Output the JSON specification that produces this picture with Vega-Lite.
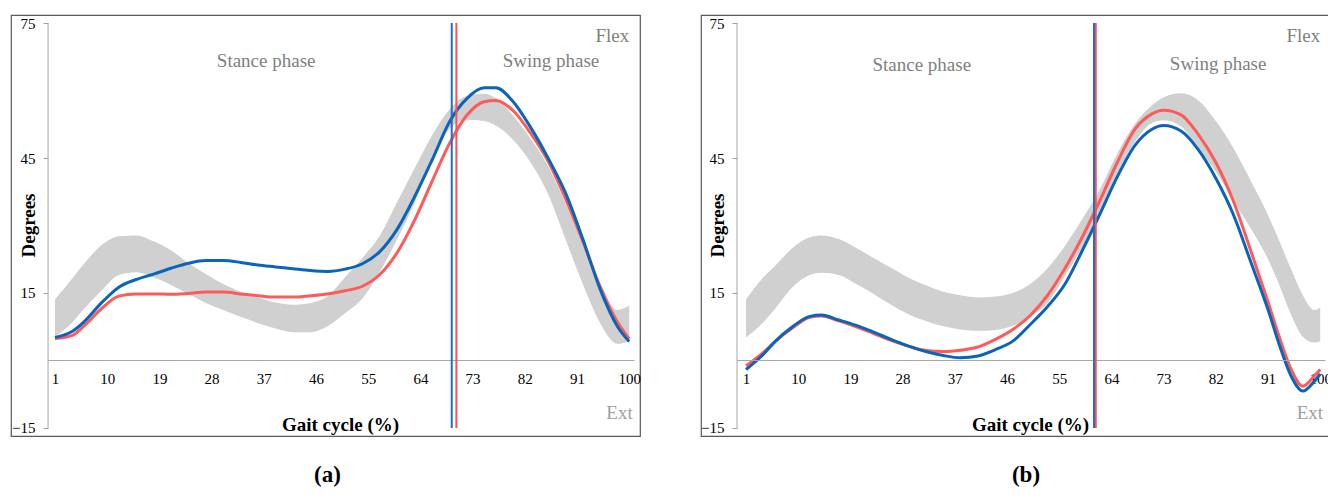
{
  "$schema": "https://vega.github.io/schema/vega-lite/v6.json",
  "padding": {"left": 10, "top": 14, "right": 0, "bottom": 0},
  "spacing": 57,
  "config": {
    "view": {"stroke": "#595959", "strokeWidth": 1.2},
    "font": "Liberation Serif",
    "axis": {"grid": false, "labelFont": "Liberation Serif", "titleFont": "Liberation Serif", "labelColor": "#000000", "titleColor": "#000000", "labelFontSize": 15, "titleFontSize": 19, "titleFontWeight": "bold"},
    "title": {"font": "Liberation Serif"}
  },
  "datasets": {
    "a": [
      {"x": 1, "lo": 5.3, "hi": 13.6, "blue": 5.1, "red": 4.9},
      {"x": 4, "lo": 8.5, "hi": 18.3, "blue": 6.5, "red": 5.6},
      {"x": 6, "lo": 11.5, "hi": 21.5, "blue": 8.6, "red": 7.7},
      {"x": 9, "lo": 15.5, "hi": 25.6, "blue": 12.8, "red": 11.5},
      {"x": 12, "lo": 19, "hi": 27.6, "blue": 16.3, "red": 14.3},
      {"x": 15, "lo": 19.6, "hi": 27.8, "blue": 18, "red": 14.8},
      {"x": 18, "lo": 18.5, "hi": 26.5, "blue": 19.2, "red": 14.8},
      {"x": 21, "lo": 16.8, "hi": 24.5, "blue": 20.5, "red": 14.7},
      {"x": 24, "lo": 14.8, "hi": 21.6, "blue": 21.6, "red": 14.9},
      {"x": 27, "lo": 12.8, "hi": 19.2, "blue": 22.2, "red": 15.2},
      {"x": 30, "lo": 11.2, "hi": 17, "blue": 22.2, "red": 15.2},
      {"x": 33, "lo": 9.7, "hi": 15.3, "blue": 21.8, "red": 14.8},
      {"x": 36, "lo": 8.3, "hi": 14, "blue": 21.2, "red": 14.4},
      {"x": 39, "lo": 7.1, "hi": 12.9, "blue": 20.8, "red": 14.1},
      {"x": 42, "lo": 6.3, "hi": 12.4, "blue": 20.4, "red": 14.1},
      {"x": 45, "lo": 6.3, "hi": 12.8, "blue": 20, "red": 14.4},
      {"x": 48, "lo": 7.6, "hi": 14.3, "blue": 19.8, "red": 14.8},
      {"x": 51, "lo": 10.5, "hi": 18.5, "blue": 20.3, "red": 15.5},
      {"x": 54, "lo": 13.8, "hi": 22.8, "blue": 21.5, "red": 16.5},
      {"x": 57, "lo": 19.7, "hi": 27.7, "blue": 24.2, "red": 19.1},
      {"x": 60, "lo": 27, "hi": 35.2, "blue": 29.2, "red": 24},
      {"x": 63, "lo": 35, "hi": 42.7, "blue": 36.4, "red": 31.2},
      {"x": 66, "lo": 44.7, "hi": 50, "blue": 44.5, "red": 39.8},
      {"x": 69, "lo": 51.5, "hi": 55.8, "blue": 53, "red": 48.2},
      {"x": 72, "lo": 53.5, "hi": 58.8, "blue": 58.2, "red": 54.5},
      {"x": 75, "lo": 53.2, "hi": 59.3, "blue": 60.6, "red": 57.5},
      {"x": 77, "lo": 52.2, "hi": 58.3, "blue": 60.6, "red": 57.8},
      {"x": 80, "lo": 49, "hi": 54.4, "blue": 57.5, "red": 55.5},
      {"x": 83, "lo": 44, "hi": 49.3, "blue": 51.8, "red": 50.5},
      {"x": 86, "lo": 37, "hi": 43.2, "blue": 45, "red": 44.3},
      {"x": 89, "lo": 27, "hi": 35, "blue": 37.3, "red": 36},
      {"x": 92, "lo": 17, "hi": 26.5, "blue": 27, "red": 26.5},
      {"x": 95, "lo": 8.3, "hi": 17.3, "blue": 15.8, "red": 16.3},
      {"x": 98, "lo": 3.7, "hi": 11.2, "blue": 7.5, "red": 8.5},
      {"x": 100, "lo": 4.3, "hi": 12.2, "blue": 4.2, "red": 4.8}
    ],
    "b": [
      {"x": 1, "lo": 5.1, "hi": 13.6, "blue": -2, "red": -1.2},
      {"x": 4, "lo": 8.5, "hi": 18.5, "blue": 1.4, "red": 1.8},
      {"x": 6, "lo": 11.5, "hi": 21, "blue": 4.2, "red": 4.2},
      {"x": 9, "lo": 16.3, "hi": 25, "blue": 7.5, "red": 7.2},
      {"x": 12, "lo": 19, "hi": 27.4, "blue": 9.8, "red": 9.6},
      {"x": 14, "lo": 19.5, "hi": 27.8, "blue": 10.1, "red": 9.9},
      {"x": 17, "lo": 19, "hi": 27, "blue": 9, "red": 8.8},
      {"x": 20, "lo": 17, "hi": 25, "blue": 7.8, "red": 7.5},
      {"x": 23, "lo": 14.8, "hi": 22.8, "blue": 6.3, "red": 6},
      {"x": 26, "lo": 12.4, "hi": 20.6, "blue": 4.7, "red": 4.5},
      {"x": 29, "lo": 10.3, "hi": 18.4, "blue": 3.2, "red": 3.2},
      {"x": 32, "lo": 8.8, "hi": 16.7, "blue": 2, "red": 2.2},
      {"x": 35, "lo": 7.6, "hi": 15.3, "blue": 1.1, "red": 2},
      {"x": 38, "lo": 6.9, "hi": 14.5, "blue": 0.6, "red": 2.3},
      {"x": 41, "lo": 6.6, "hi": 14, "blue": 1, "red": 3},
      {"x": 44, "lo": 6.8, "hi": 14.2, "blue": 2.4, "red": 4.7},
      {"x": 47, "lo": 7.7, "hi": 15, "blue": 4.3, "red": 6.9},
      {"x": 50, "lo": 9.8, "hi": 17, "blue": 8, "red": 10},
      {"x": 53, "lo": 12.8, "hi": 20.5, "blue": 12, "red": 14.5},
      {"x": 56, "lo": 18.8, "hi": 25.5, "blue": 17, "red": 20.5},
      {"x": 59, "lo": 25.3, "hi": 31.5, "blue": 24.5, "red": 27.5},
      {"x": 62, "lo": 33, "hi": 38, "blue": 32.5, "red": 35.5},
      {"x": 65, "lo": 41.5, "hi": 46, "blue": 40.8, "red": 44},
      {"x": 68, "lo": 48.5, "hi": 52.5, "blue": 47.7, "red": 51.3},
      {"x": 71, "lo": 52.8, "hi": 56.7, "blue": 51.4, "red": 54.8},
      {"x": 73, "lo": 53.4, "hi": 58.5, "blue": 52.2, "red": 55.6},
      {"x": 76, "lo": 52, "hi": 59.4, "blue": 51, "red": 54.6},
      {"x": 79, "lo": 47, "hi": 57.8, "blue": 46.8, "red": 50.2},
      {"x": 82, "lo": 42, "hi": 53.2, "blue": 40.5, "red": 44},
      {"x": 85, "lo": 35.5, "hi": 47.3, "blue": 32.5, "red": 35.5},
      {"x": 88, "lo": 29.4, "hi": 40, "blue": 22, "red": 24.5},
      {"x": 91, "lo": 22.5, "hi": 32.3, "blue": 11.3, "red": 13},
      {"x": 93, "lo": 16.6, "hi": 26.4, "blue": 3.3, "red": 5},
      {"x": 95, "lo": 10.1, "hi": 20.2, "blue": -3.5, "red": -2},
      {"x": 97, "lo": 5.3, "hi": 14.5, "blue": -6.8, "red": -5.7},
      {"x": 99, "lo": 4, "hi": 11.2, "blue": -4.6, "red": -3.4},
      {"x": 100, "lo": 4.3, "hi": 11.8, "blue": -3, "red": -2}
    ]
  },
  "hconcat": [
    {
      "width": 629,
      "height": 421,
      "title": {"text": "(a)", "orient": "bottom", "anchor": "middle", "offset": 28, "fontSize": 23, "fontWeight": "bold", "dx": 2, "color": "#000000"},
      "data": {"name": "a"},
      "layer": [
        {
          "mark": {"type": "area", "color": "#d0d0d0", "interpolate": "monotone"},
          "encoding": {
            "x": {"field": "x", "type": "quantitative", "scale": {"domain": [-6.59, 101.86], "nice": false, "zero": false},
              "axis": {"values": [1, 10, 19, 28, 37, 46, 55, 64, 73, 82, 91, 100], "offset": -75.5, "domain": false, "ticks": false, "labelPadding": 11, "labelFlush": false, "labelOverlap": false, "title": "Gait cycle (%)", "titleX": 329, "titleY": 63.5, "titleBaseline": "middle", "titleAlign": "center"}},
            "y": {"field": "lo", "type": "quantitative", "scale": {"domain": [-16.78, 76.78], "nice": false, "zero": false},
              "axis": {"values": [-15, 15, 45, 75], "offset": -37, "domain": false, "ticks": true, "tickSize": 5, "tickColor": "#a0a0a0", "labelPadding": 8, "labelFlush": false, "labelOverlap": false, "title": "Degrees", "titleX": -20, "titleY": 210, "titleAngle": 270, "titleBaseline": "middle", "titleAlign": "center"}},
            "y2": {"field": "hi"}
          }
        },
        {
          "mark": {"type": "line", "color": "#ff5a5a", "strokeWidth": 3, "interpolate": "monotone"},
          "encoding": {"x": {"field": "x", "type": "quantitative"}, "y": {"field": "red", "type": "quantitative"}}
        },
        {
          "mark": {"type": "line", "color": "#0a64b9", "strokeWidth": 3, "interpolate": "monotone"},
          "encoding": {"x": {"field": "x", "type": "quantitative"}, "y": {"field": "blue", "type": "quantitative"}}
        },
        {
          "data": {"values": [{}]},
          "mark": {"type": "rule", "color": "#a6a6a6", "strokeWidth": 1},
          "encoding": {"x": {"datum": -0.2, "type": "quantitative"}, "y": {"datum": -15, "type": "quantitative"}, "y2": {"datum": 75}}
        },
        {
          "data": {"values": [{}]},
          "mark": {"type": "rule", "color": "#a6a6a6", "strokeWidth": 1},
          "encoding": {"x": {"datum": -0.2, "type": "quantitative"}, "x2": {"datum": 100.9}, "y": {"datum": 0, "type": "quantitative"}}
        },
        {
          "data": {"values": [{}]},
          "mark": {"type": "rule", "color": "#1f6fc5", "strokeWidth": 2},
          "encoding": {"x": {"datum": 69.4, "type": "quantitative"}, "y": {"datum": -15, "type": "quantitative"}, "y2": {"datum": 75}}
        },
        {
          "data": {"values": [{}]},
          "mark": {"type": "rule", "color": "#ff5050", "strokeWidth": 2},
          "encoding": {"x": {"datum": 70.2, "type": "quantitative"}, "y": {"datum": -15, "type": "quantitative"}, "y2": {"datum": 75}}
        },
        {
          "data": {"values": [{}]},
          "mark": {"type": "text", "text": "Stance phase", "fontSize": 19, "color": "#7f7f7f", "align": "center", "baseline": "middle"},
          "encoding": {"x": {"datum": 37.4, "type": "quantitative"}, "y": {"datum": 66.6, "type": "quantitative"}}
        },
        {
          "data": {"values": [{}]},
          "mark": {"type": "text", "text": "Swing phase", "fontSize": 19, "color": "#7f7f7f", "align": "center", "baseline": "middle"},
          "encoding": {"x": {"datum": 86.5, "type": "quantitative"}, "y": {"datum": 66.6, "type": "quantitative"}}
        },
        {
          "data": {"values": [{}]},
          "mark": {"type": "text", "text": "Flex", "fontSize": 19, "color": "#7f7f7f", "align": "right", "baseline": "middle"},
          "encoding": {"x": {"datum": 100, "type": "quantitative"}, "y": {"datum": 72.1, "type": "quantitative"}}
        },
        {
          "data": {"values": [{}]},
          "mark": {"type": "text", "text": "Ext", "fontSize": 19, "color": "#a0a0a0", "align": "right", "baseline": "middle"},
          "encoding": {"x": {"datum": 100.6, "type": "quantitative"}, "y": {"datum": -11.7, "type": "quantitative"}}
        }
      ]
    },
    {
      "width": 631,
      "height": 421,
      "title": {"text": "(b)", "orient": "bottom", "anchor": "middle", "offset": 28, "fontSize": 23, "fontWeight": "bold", "dx": 9.5, "color": "#000000"},
      "data": {"name": "b"},
      "layer": [
        {
          "mark": {"type": "area", "color": "#d0d0d0", "interpolate": "monotone"},
          "encoding": {
            "x": {"field": "x", "type": "quantitative", "scale": {"domain": [-6.76, 102.03], "nice": false, "zero": false},
              "axis": {"values": [1, 10, 19, 28, 37, 46, 55, 64, 73, 82, 91, 100], "offset": -75.5, "domain": false, "ticks": false, "labelPadding": 11, "labelFlush": false, "labelOverlap": false, "title": "Gait cycle (%)", "titleX": 329, "titleY": 63.5, "titleBaseline": "middle", "titleAlign": "center"}},
            "y": {"field": "lo", "type": "quantitative", "scale": {"domain": [-16.78, 76.78], "nice": false, "zero": false},
              "axis": {"values": [-15, 15, 45, 75], "offset": -36, "domain": false, "ticks": true, "tickSize": 5, "tickColor": "#a0a0a0", "labelPadding": 8, "labelFlush": false, "labelOverlap": false, "title": "Degrees", "titleX": -20, "titleY": 210, "titleAngle": 270, "titleBaseline": "middle", "titleAlign": "center"}},
            "y2": {"field": "hi"}
          }
        },
        {
          "mark": {"type": "line", "color": "#ff5a5a", "strokeWidth": 3, "interpolate": "monotone"},
          "encoding": {"x": {"field": "x", "type": "quantitative"}, "y": {"field": "red", "type": "quantitative"}}
        },
        {
          "mark": {"type": "line", "color": "#0a64b9", "strokeWidth": 3, "interpolate": "monotone"},
          "encoding": {"x": {"field": "x", "type": "quantitative"}, "y": {"field": "blue", "type": "quantitative"}}
        },
        {
          "data": {"values": [{}]},
          "mark": {"type": "rule", "color": "#a6a6a6", "strokeWidth": 1},
          "encoding": {"x": {"datum": -0.55, "type": "quantitative"}, "y": {"datum": -15, "type": "quantitative"}, "y2": {"datum": 75}}
        },
        {
          "data": {"values": [{}]},
          "mark": {"type": "rule", "color": "#a6a6a6", "strokeWidth": 1},
          "encoding": {"x": {"datum": -0.55, "type": "quantitative"}, "x2": {"datum": 100.9}, "y": {"datum": 0, "type": "quantitative"}}
        },
        {
          "data": {"values": [{}]},
          "mark": {"type": "rule", "color": "#ff5050", "strokeWidth": 2},
          "encoding": {"x": {"datum": 61.3, "type": "quantitative"}, "y": {"datum": -15, "type": "quantitative"}, "y2": {"datum": 75}}
        },
        {
          "data": {"values": [{}]},
          "mark": {"type": "rule", "color": "#1f6fc5", "strokeWidth": 2},
          "encoding": {"x": {"datum": 61.0, "type": "quantitative"}, "y": {"datum": -15, "type": "quantitative"}, "y2": {"datum": 75}}
        },
        {
          "data": {"values": [{}]},
          "mark": {"type": "text", "text": "Stance phase", "fontSize": 19, "color": "#7f7f7f", "align": "center", "baseline": "middle"},
          "encoding": {"x": {"datum": 31.3, "type": "quantitative"}, "y": {"datum": 65.7, "type": "quantitative"}}
        },
        {
          "data": {"values": [{}]},
          "mark": {"type": "text", "text": "Swing phase", "fontSize": 19, "color": "#7f7f7f", "align": "center", "baseline": "middle"},
          "encoding": {"x": {"datum": 82.4, "type": "quantitative"}, "y": {"datum": 65.9, "type": "quantitative"}}
        },
        {
          "data": {"values": [{}]},
          "mark": {"type": "text", "text": "Flex", "fontSize": 19, "color": "#7f7f7f", "align": "right", "baseline": "middle"},
          "encoding": {"x": {"datum": 100, "type": "quantitative"}, "y": {"datum": 72.1, "type": "quantitative"}}
        },
        {
          "data": {"values": [{}]},
          "mark": {"type": "text", "text": "Ext", "fontSize": 19, "color": "#a0a0a0", "align": "right", "baseline": "middle"},
          "encoding": {"x": {"datum": 100.5, "type": "quantitative"}, "y": {"datum": -11.7, "type": "quantitative"}}
        }
      ]
    }
  ]
}
